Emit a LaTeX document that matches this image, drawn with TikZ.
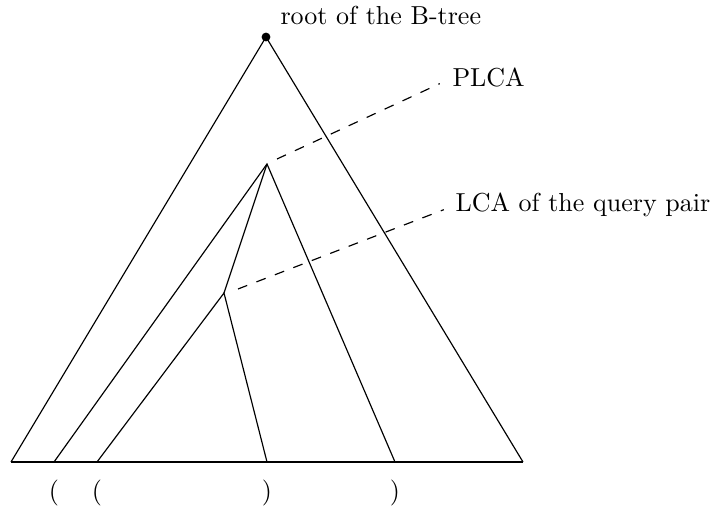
\documentclass[tikz,border=0pt]{standalone}
\begin{document}
\begin{tikzpicture}[x=0.3846pt,y=-0.3846pt,
  edge/.style={draw=black,line width=0.45pt},
  guide/.style={draw=black,line width=0.45pt,dash pattern=on 3.8pt off 3.8pt},
  lab/.style={inner sep=0pt,anchor=base west},
  par/.style={inner sep=0pt,anchor=center}]
\useasboundingbox (0,0) rectangle (717,507);
\coordinate (root) at (266,37);
\coordinate (plca) at (267,164);
\coordinate (lca) at (224,293);
\coordinate (bl) at (11,462);
\coordinate (br) at (523,462);
\coordinate (t1) at (54,462);
\coordinate (t2) at (97,462);
\coordinate (t3) at (267,462);
\coordinate (t4) at (395,462);
\coordinate (pd) at (277,159);
\coordinate (ld) at (238,289);
% tree
\path[edge] (bl) -- (root) -- (br);
\path[edge] (bl) -- (br);
\path[edge] (t1) -- (plca) -- (t4);
\path[edge] (plca) -- (lca);
\path[edge] (t2) -- (lca) -- (t3);
\fill (root) circle (1.7pt);
% labels
\node[lab] (rootlab) at (280,25) {root of the B-tree};
\node[lab] (plcalab) at (452,87) {PLCA};
\node[lab] (lcalab) at (455,212) {LCA of the query pair};
\path[guide,shorten >=5.2pt] (pd) -- (plcalab.west);
\path[guide,shorten >=4.6pt] (ld) -- (lcalab.west);
% parentheses
\node[par] (p1) at (54,493) {(};
\node[par] (p2) at (97,493) {(};
\node[par] (p3) at (267,493) {)};
\node[par] (p4) at (395,493) {)};
\end{tikzpicture}
\end{document}
